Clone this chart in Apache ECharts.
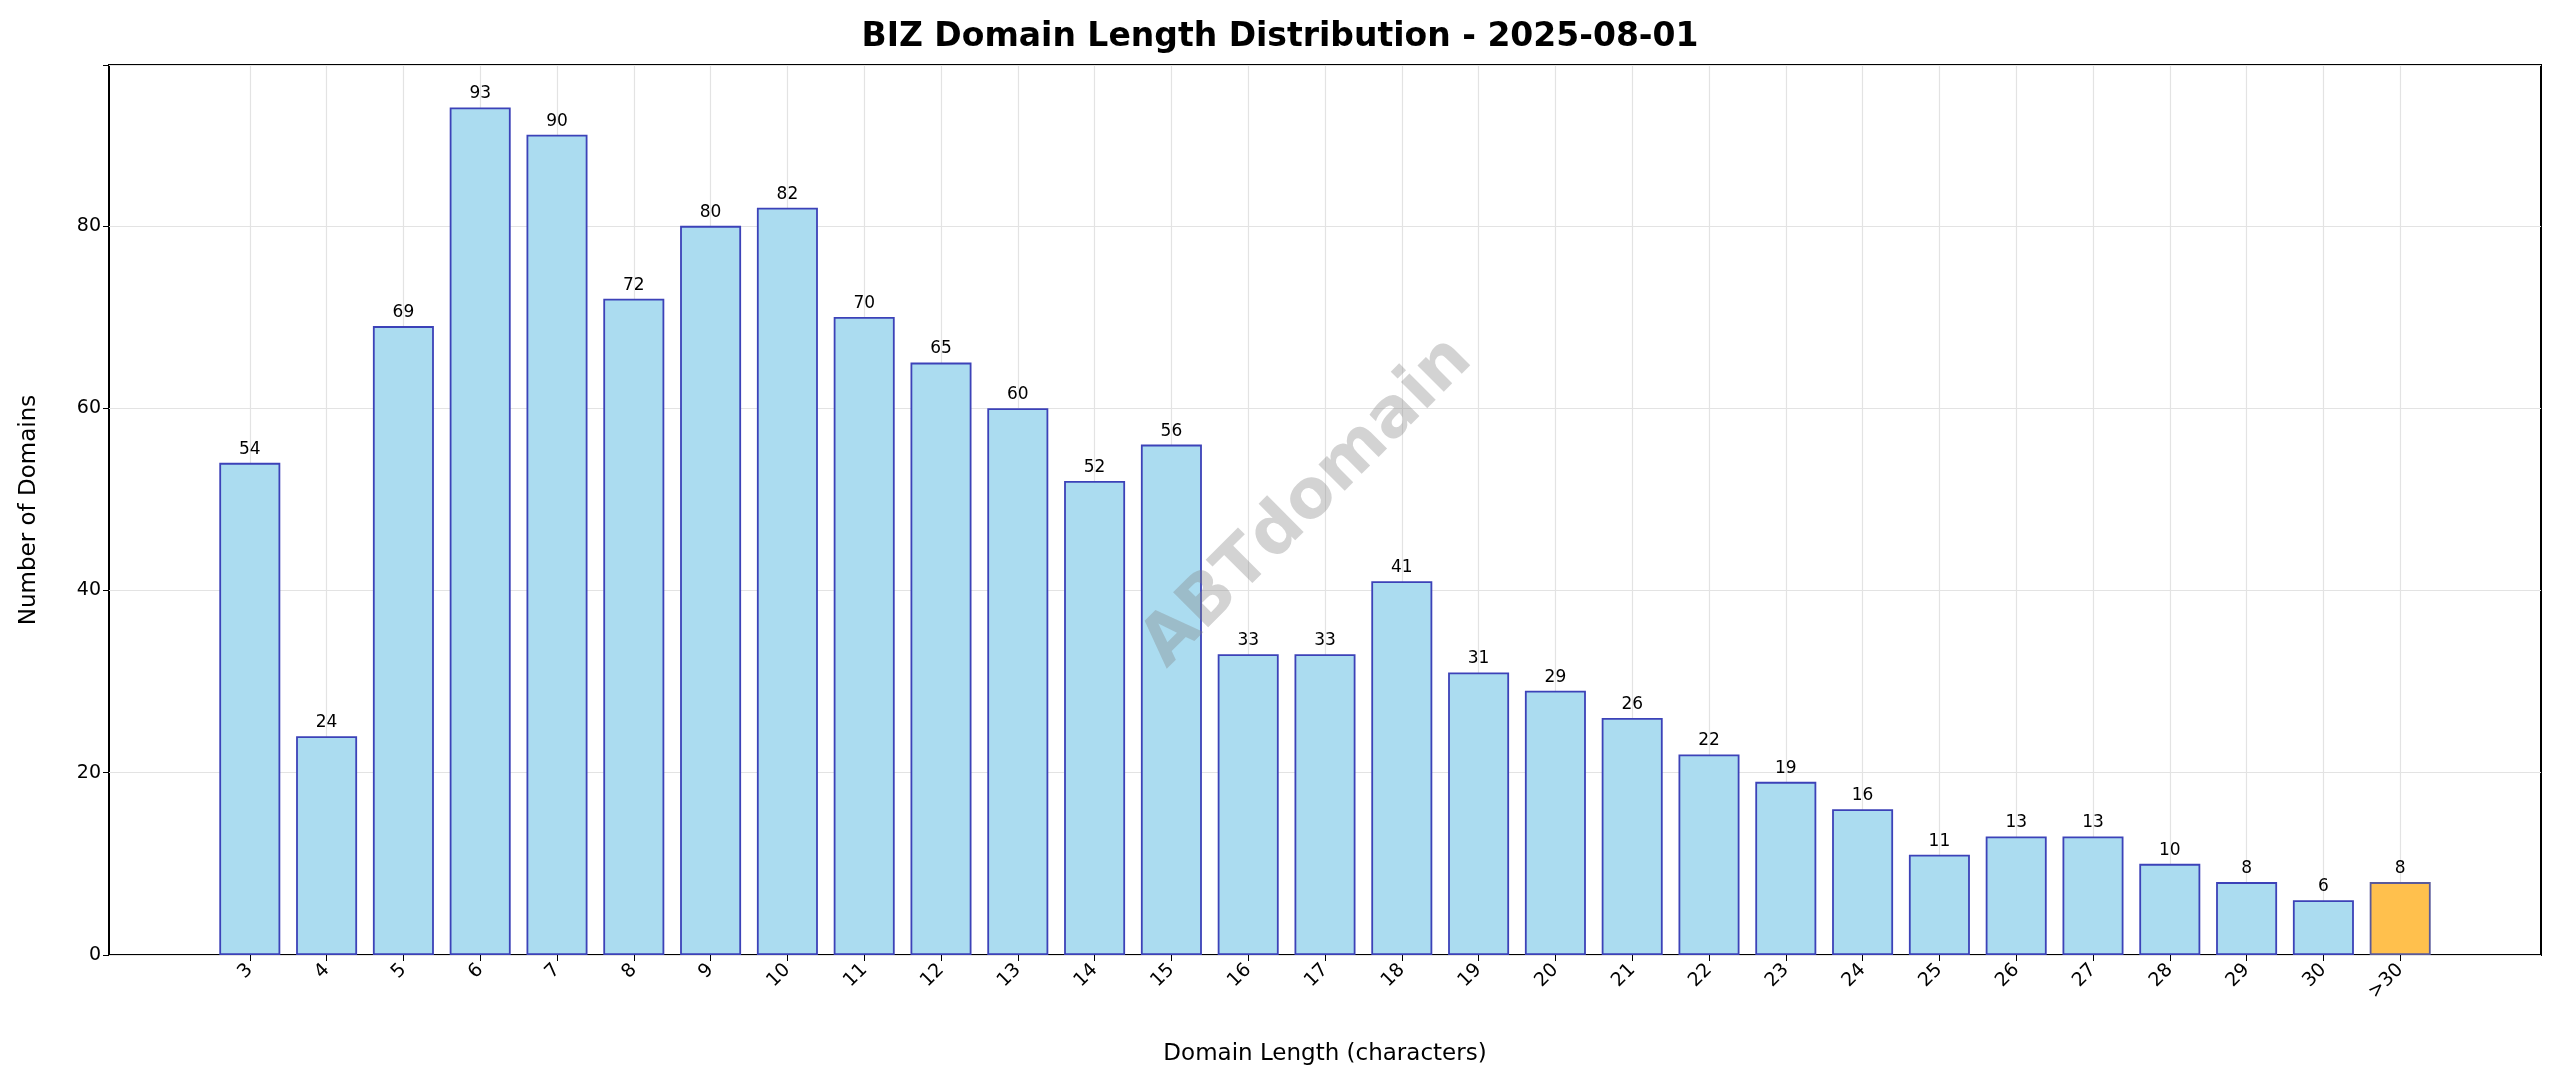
<!DOCTYPE html>
<html><head><meta charset="utf-8">
<script src="https://cdn.jsdelivr.net/npm/echarts@6/dist/echarts.min.js"></script>
<style>html,body{margin:0;padding:0;background:#fff}#c{width:2560px;height:1087px}</style>
</head><body><div id="c"></div>
<script>
const categories = ['3','4','5','6','7','8','9','10','11','12','13','14','15','16','17','18','19','20','21','22','23','24','25','26','27','28','29','30','>30'];
const counts = [54,24,69,93,90,72,80,82,70,65,60,52,56,33,33,41,31,29,26,22,19,16,11,13,13,10,8,6,8];
const yTicks = [0,20,40,60,80];
const yMax = 97.65;

const n = categories.length;
const barData = counts.map((v,i)=>({
  value:[i,v],
  itemStyle: categories[i]==='>30' ? {color:'#FFC04D',borderColor:'#5a5a9a'} : {color:'#ABDCF0',borderColor:'#3C42B8'}
}));
const chart = echarts.init(document.getElementById('c'));
const font = 'DejaVu Sans';
chart.setOption({
  animation:false,
  textStyle:{fontFamily:font},
  title:{text:'BIZ Domain Length Distribution - 2025-08-01',left:'center',top:16,
    textStyle:{fontSize:33,fontWeight:'bold',color:'#000',fontFamily:font}},
  graphic:[{type:'text',left:1130,top:325,rotation:Math.PI/4,z:100,
    style:{text:'ABTdomain',fontSize:68,fontWeight:'bold',fill:'rgba(128,128,128,0.35)',fontFamily:font}}],
  grid:[
    {left:109,right:19,top:65,bottom:132,show:true,borderColor:'#000',borderWidth:2,backgroundColor:'transparent'},
    {left:173,right:83,top:65,bottom:132}
  ],
  xAxis:[
    {gridIndex:0,type:'value',min:0,max:1,show:false},
    {gridIndex:1,type:'value',min:-1,max:n,interval:1,
      axisLine:{show:false},splitLine:{show:false},
      axisTick:{show:true,length:6,lineStyle:{color:'#000'},customValues:categories.map((c,i)=>i)},
      axisLabel:{customValues:categories.map((c,i)=>i),formatter:v=>categories[v]||'',rotate:45,fontSize:19,color:'#000',margin:12},
      name:'Domain Length (characters)',nameLocation:'middle',nameGap:88,
      nameTextStyle:{fontSize:23,color:'#000'}}
  ],
  yAxis:[
    {gridIndex:0,type:'value',min:0,max:yMax,interval:20,
      axisLine:{show:false},axisTick:{show:true,length:6,lineStyle:{color:'#000'}},
      axisLabel:{fontSize:19,color:'#000',hideOverlap:false,formatter:v=>yTicks.includes(v)?String(v):''},
      splitLine:{show:true,lineStyle:{color:'#e3e3e3',width:1.2}},
      name:'Number of Domains',nameLocation:'middle',nameGap:68,nameTextStyle:{fontSize:23,color:'#000'}},
    {gridIndex:1,type:'value',min:0,max:yMax,show:false}
  ],
  series:[{
    type:'bar',xAxisIndex:1,yAxisIndex:1,data:barData,barWidth:61,
    itemStyle:{borderWidth:1.8},
    label:{show:true,position:'top',distance:5,fontSize:17,color:'#000',formatter:p=>p.value[1]},
    markLine:{silent:true,symbol:'none',label:{show:false},z:0,
      lineStyle:{color:'#e3e3e3',width:1.2,type:'solid'},
      data:categories.map((c,i)=>({xAxis:i}))}
  }]
});
</script></body></html>
